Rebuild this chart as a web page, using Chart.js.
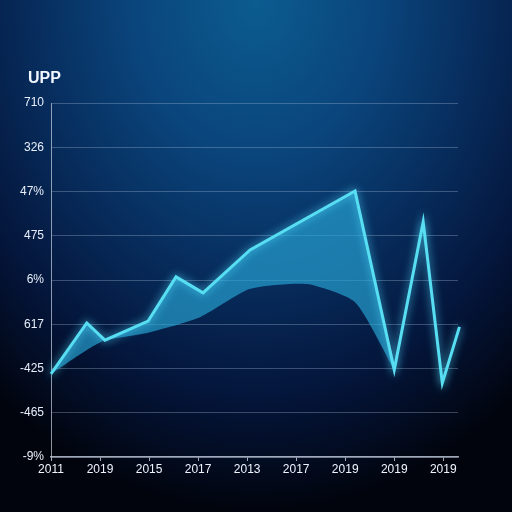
<!DOCTYPE html>
<html>
<head>
<meta charset="utf-8">
<script src="https://cdn.jsdelivr.net/npm/chart.js@4"></script>
<style>
  html, body { margin: 0; padding: 0; }
  body {
    width: 512px; height: 512px; overflow: hidden;
    background: radial-gradient(ellipse 80% 100% at 50% 0%, #0b5c90 0%, #0a457c 30%, #072c5c 55%, #04153a 78%, #01040d 100%);
  }
  #wrap { width: 512px; height: 512px; }
</style>
</head>
<body>
<div id="wrap"><canvas id="chart"></canvas></div>
<script>
// axis labels as printed on the picture
const xLabels = ['2011', '2019', '2015', '2017', '2013', '2017', '2019', '2019', '2019'];
const yLabels = ['-9%', '-465', '-425', '617', '6%', '475', '47%', '326', '710'];

// bright line (position along x axis, height in grid steps)
const lineX = [0, 0.73, 1.10, 1.98, 2.55, 3.10, 4.06, 6.20, 7.00, 7.59, 7.98, 8.33];
const lineY = [1.88, 3.03, 2.64, 3.07, 4.07, 3.71, 4.68, 6.01, 1.97, 5.31, 1.67, 2.94];

// dark lower edge of the shaded band
const baseX = [0, 0.73, 1.10, 1.98, 3.04, 4.06, 5.22, 6.20, 7.00];
const baseY = [1.88, 2.42, 2.64, 2.81, 3.16, 3.80, 3.91, 3.50, 1.97];

const toPoints = (xs, ys) => xs.map((x, i) => ({ x: x, y: ys[i] }));
const bandEnd = lineX.indexOf(baseX[baseX.length - 1]) + 1;

// glow on the bright line
const glow = {
    id: 'glow',
    beforeDatasetDraw(chart, args) {
        if (args.index !== 0) return;
        chart.ctx.save();
        chart.ctx.shadowColor = 'rgba(80, 220, 255, 0.9)';
        chart.ctx.shadowBlur = 8;
    },
    afterDatasetDraw(chart, args) {
        if (args.index === 0) chart.ctx.restore();
    }
};

// title in the corner
const heading = {
    id: 'heading',
    afterDraw(chart) {
        const ctx = chart.ctx;
        ctx.save();
        ctx.fillStyle = '#f2f6ff';
        ctx.font = 'bold 16px "Liberation Sans", Arial, sans-serif';
        ctx.textBaseline = 'middle';
        ctx.fillText('UPP', 28, 79);
        ctx.restore();
    }
};

new Chart(document.getElementById('chart'), {
    type: 'line',
    data: {
        datasets: [{
            data: toPoints(lineX, lineY),
            borderColor: '#58def2',
            borderWidth: 3,
            pointRadius: 0,
            tension: 0,
            fill: false,
            clip: false,
            order: 0
        }, {
            data: toPoints(lineX.slice(0, bandEnd), lineY.slice(0, bandEnd)),
            borderWidth: 0,
            borderColor: 'rgba(0,0,0,0)',
            pointRadius: 0,
            tension: 0,
            fill: '+1',
            backgroundColor: 'rgba(40, 168, 215, 0.65)',
            order: 1
        }, {
            data: toPoints(baseX, baseY),
            borderWidth: 0,
            borderColor: 'rgba(0,0,0,0)',
            pointRadius: 0,
            tension: 0.2,
            fill: false,
            order: 2
        }]
    },
    options: {
        responsive: true,
        maintainAspectRatio: false,
        animation: false,
        layout: { padding: { left: 0, right: 54, top: 103, bottom: 25 } },
        plugins: {
            legend: { display: false },
            tooltip: { enabled: false }
        },
        scales: {
            x: {
                type: 'linear',
                min: 0,
                max: 8.3,
                afterFit: s => { s.height = 30; },
                grid: {
                    drawOnChartArea: false,
                    color: 'rgba(200, 210, 225, 0.8)',
                    tickLength: 4
                },
                border: { color: 'rgba(200, 210, 225, 0.8)', width: 1.5 },
                ticks: {
                    stepSize: 1,
                    includeBounds: false,
                    autoSkip: false,
                    maxRotation: 0,
                    padding: 1,
                    color: '#f0f4ff',
                    font: { family: '"Liberation Sans", Arial, sans-serif', size: 12 },
                    callback: v => xLabels[v]
                }
            },
            y: {
                type: 'linear',
                min: 0,
                max: 8,
                afterFit: s => { s.width = 51; },
                grid: {
                    color: 'rgba(160, 180, 210, 0.35)',
                    drawTicks: false
                },
                border: { color: 'rgba(200, 210, 225, 0.7)', width: 1 },
                ticks: {
                    stepSize: 1,
                    padding: 7,
                    color: '#e8eefa',
                    font: { family: '"Liberation Sans", Arial, sans-serif', size: 12 },
                    callback: v => yLabels[v]
                }
            }
        }
    },
    plugins: [glow, heading]
});
</script>
</body>
</html>
